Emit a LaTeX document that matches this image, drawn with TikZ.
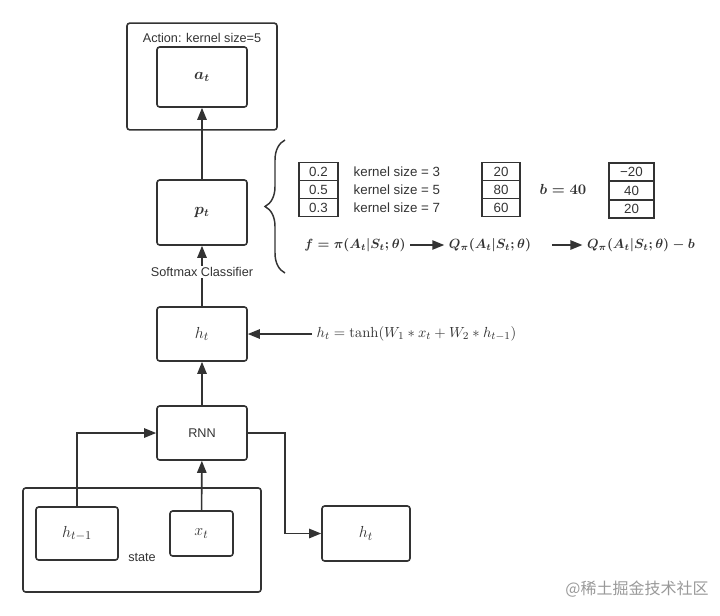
\documentclass[tikz,border=0pt]{standalone}
\usepackage[no-math]{fontspec}
\usepackage{amsmath}
\setmainfont{Liberation Sans}
\newfontfamily\cjkfont{Noto Sans CJK SC}
\usetikzlibrary{arrows.meta,decorations.pathreplacing}

\begin{document}
\begin{tikzpicture}[x=0.75pt,y=-0.75pt,
    every node/.style={text=black!80, font=\fontsize{9.5}{11}\selectfont},
    box/.style={draw=black!80, line width=1.2pt, rounded corners=2pt, inner sep=0pt},
    boxmath/.style={box, font=\fontsize{12.5}{14}\selectfont},
    cell/.style={draw=black!80, line width=1.1pt, minimum height=13.5pt, inner sep=0pt, font=\fontsize{10}{12}\selectfont},
    arr/.style={draw=black!80, line width=1.2pt, -{Triangle[length=9pt,width=7pt]}},
    bmath/.style={font=\boldmath\fontsize{10}{12}\selectfont}]

    \useasboundingbox (0,0) rectangle (720,615);

    % Action block
    \node[box, minimum width=112.5pt, minimum height=80pt] (action) at (202,76.5) {};
    \node (actlabel) at (202,38) {Action: kernel size=5};
    \node[boxmath, font=\boldmath\fontsize{12}{14}\selectfont, minimum width=67.5pt, minimum height=45pt] (a) at (202,77) {$a_t$};

    % main column
    \node[boxmath, font=\boldmath\fontsize{12}{14}\selectfont, minimum width=67.5pt, minimum height=48.75pt] (p) at (202,212.5) {$p_t$};
    \node[boxmath, minimum width=67.5pt, minimum height=40.5pt] (h) at (202,334) {$h_t$};
    \node[box, minimum width=67.5pt, minimum height=40.5pt] (rnn) at (202,433) {RNN};

    % state block
    \node[box, minimum width=178.5pt, minimum height=78pt] (state) at (142,540) {};
    \node[boxmath, minimum width=61.5pt, minimum height=39.75pt] (hprev) at (77,533.5) {$h_{t-1}$};
    \node[boxmath, minimum width=47.25pt, minimum height=33.75pt] (x) at (201.5,533.5) {$x_t$};
    \node (statelabel) at (142,557) {state};
    \node[boxmath, minimum width=66pt, minimum height=41.25pt] (hout) at (366,533.5) {$h_t$};

    \draw[arr] (p) -- (a);
    \draw[arr] (h) -- (p) node[pos=0.56, fill=white, inner sep=1pt] (softmax) {Softmax Classifier};
    \draw[arr] (rnn) -- (h);
    \draw[arr] (x) -- (rnn);
    \draw[arr] (hprev.north) |- (rnn.west);
    \draw[arr] (rnn.east) -- ++(37,0) |- (hout.west);

    % recurrence
    \node[anchor=west, font=\fontsize{11}{13}\selectfont] (eqh) at (312,334) {$h_t = \tanh(W_1 * x_t + W_2 * h_{t-1})$};
    \draw[arr] (eqh) -- (h);

    % brace with the probabilities
    \draw[line width=1.1pt, black!80, decorate, decoration={brace, amplitude=15pt}] (285,273) -- (285,140);

    \foreach \v [count=\i] in {0.2,0.5,0.3}
        \node[cell, minimum width=29.25pt] (pr\i) at (318.5,153.5+18*\i) {\v};
    \foreach \k [count=\i] in {3,5,7}
        \node[anchor=west, font=\fontsize{10}{12}\selectfont] (ks\i) at (349,153.5+18*\i) {kernel size = \k};
    \foreach \v [count=\i] in {20,80,60}
        \node[cell, minimum width=28.5pt] (qv\i) at (501,153.5+18*\i) {\v};
    \node[font=\boldmath\fontsize{11}{13}\selectfont] (b) at (563,189) {$b = 40$};
    \foreach \v [count=\i] in {−20,40,20}
        \node[cell, minimum width=33.75pt] (av\i) at (631.5,153.5+18.5*\i) {\v};

    % policy to advantage
    \node[bmath] (f) at (355,245) {$f = \pi(A_t|S_t;\theta)$};
    \node[bmath] (q) at (490,245) {$Q_\pi(A_t|S_t;\theta)$};
    \node[bmath] (qb) at (641,245) {$Q_\pi(A_t|S_t;\theta) - b$};
    \draw[arr] (f) -- (q);
    \draw[arr, shorten <=12pt] (q) -- (qb);

    \node[text=black!40, font=\cjkfont\fontsize{12}{14}\selectfont] (mark) at (637,589) {@稀土掘金技术社区};
\end{tikzpicture}
\end{document}
